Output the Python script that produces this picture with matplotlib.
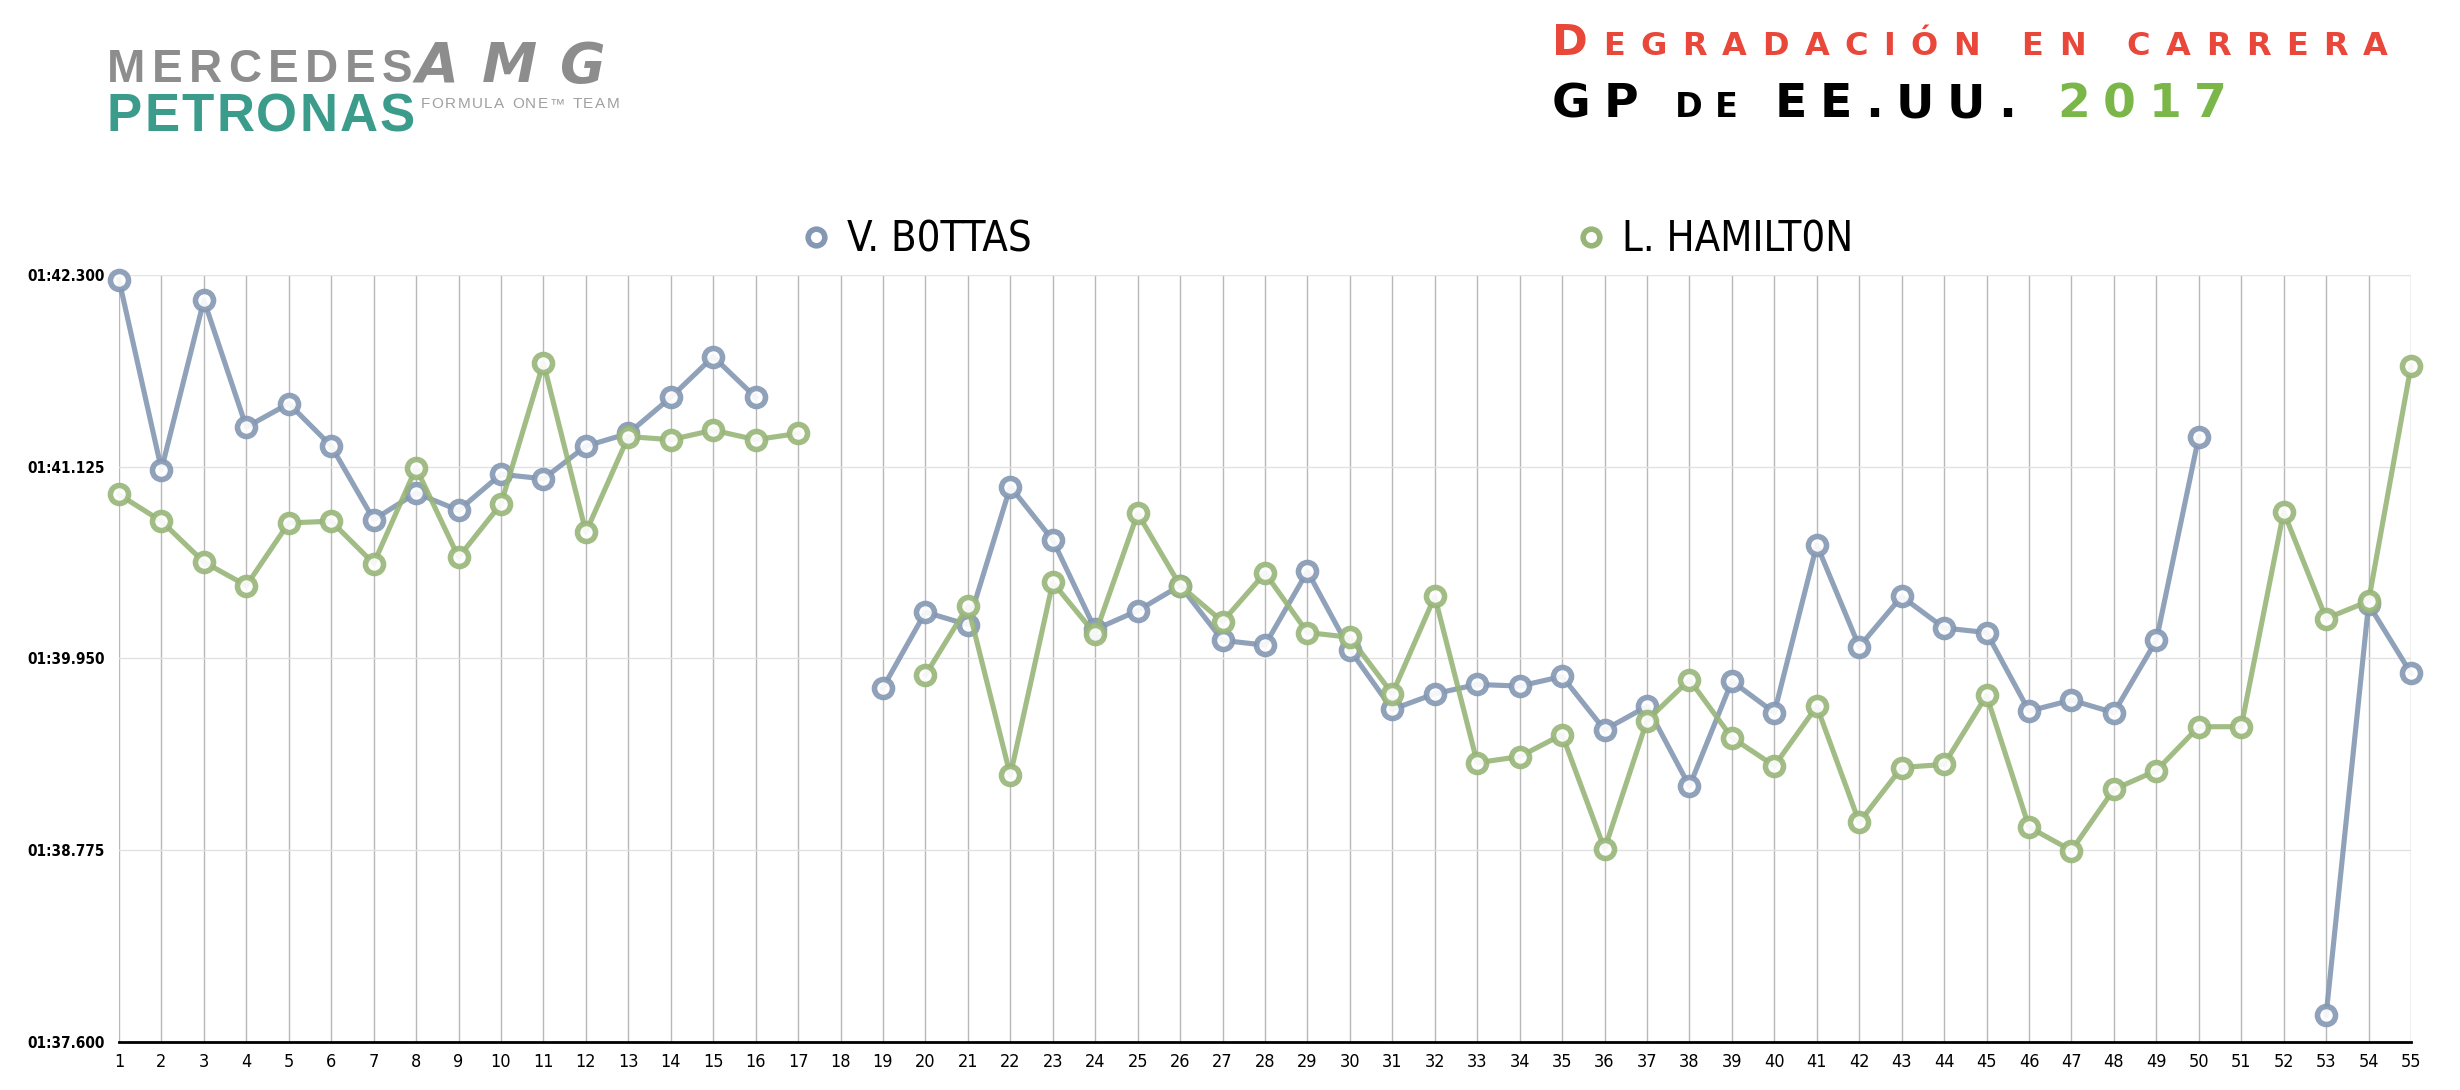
import numpy as np
import matplotlib
matplotlib.use('Agg')
import matplotlib.pyplot as plt
from matplotlib import font_manager
from matplotlib.font_manager import FontProperties
from matplotlib.lines import Line2D

nan = np.nan

# lap times in seconds (1:41.125 -> 101.125)
laps = list(range(1, 56))
bottas = [102.271, 101.108, 102.146, 101.368, 101.512, 101.252, 100.801, 100.964, 100.858, 101.079,
          101.051, 101.252, 101.329, 101.550, 101.800, 101.550, nan, nan, 99.772, 100.234,
          100.157, 101.003, 100.676, 100.128, 100.243, 100.397, 100.061, 100.032, 100.484, 100.003,
          99.638, 99.734, 99.791, 99.781, 99.840, 99.513, 99.657, 99.167, 99.811, 99.618,
          100.647, 100.022, 100.330, 100.137, 100.109, 99.628, 99.695, 99.618, 100.061, 101.310,
          nan, nan, 97.763, 100.282, 99.859]
hamilton = [100.955, 100.791, 100.541, 100.397, 100.781, 100.791, 100.532, 101.118, 100.570, 100.897,
            101.762, 100.724, 101.310, 101.291, 101.349, 101.291, 101.329, nan, nan, 99.849,
            100.272, 99.234, 100.416, 100.099, 100.839, 100.397, 100.176, 100.474, 100.109, 100.080,
            99.734, 100.330, 99.311, 99.349, 99.484, 98.782, 99.570, 99.820, 99.465, 99.292,
            99.657, 98.946, 99.282, 99.301, 99.724, 98.917, 98.773, 99.148, 99.263, 99.532,
            99.532, 100.849, 100.195, 100.301, 101.743]
y_ticks = [97.6, 98.775, 99.95, 101.125, 102.3]
y_labels = ['01:37.600', '01:38.775', '01:39.950', '01:41.125', '01:42.300']
names = ['V. B0TTAS', 'L. HAMILT0N']

col_b = '#8497b3'
col_h = '#98b578'


# look for a condensed / narrow sans, fall back to Liberation Sans
def narrow_font(bold, size):
    for f in font_manager.fontManager.ttflist:
        cond = (f.stretch in ('condensed', 'semi-condensed', 'extra-condensed')
                or 'Narrow' in f.name or 'Condensed' in f.name)
        if not cond or f.style != 'normal':
            continue
        w = f.weight if isinstance(f.weight, int) else (700 if 'bold' in str(f.weight) else 400)
        if (w >= 600) == bold and 'Mono' not in f.name and 'Serif' not in f.name:
            return FontProperties(fname=f.fname, size=size)
    return FontProperties(family='Liberation Sans', weight='bold' if bold else 'normal',
                          size=size * 0.88)


W, H = 2460, 1090
fig = plt.figure(figsize=(W / 100, H / 100), dpi=100)
ax = fig.add_axes([119 / W, 1 - 1042 / H, (2411 - 119) / W, (1042 - 275) / H])

for vals, c in [(bottas, col_b), (hamilton, col_h)]:
    ax.plot(laps, vals, color=c, lw=3.7, alpha=0.9, marker='o', ms=13,
            mfc='white', mec=c, mew=4, clip_on=False, zorder=3)

ax.set_xlim(1, 55)
ax.set_ylim(97.6, 102.3)
ax.set_xticks(laps)
ax.set_xticklabels([str(l) for l in laps], fontproperties=narrow_font(False, 13))
ax.set_yticks(y_ticks)
ax.set_yticklabels(y_labels, fontproperties=narrow_font(True, 11))
ax.tick_params(length=0, pad=10)
ax.tick_params(axis='x', pad=8)
ax.grid(axis='x', color='#b8b8b8', lw=1)
ax.grid(axis='y', color='#e2e2e2', lw=1)
for s in ['top', 'right', 'left']:
    ax.spines[s].set_visible(False)
ax.spines['bottom'].set_color('black')
ax.spines['bottom'].set_linewidth(2)

# legend, one entry each so they sit where the reference has them
leg_font = narrow_font(False, 30)
for name, c, xm in [(names[0], col_b, 813), (names[1], col_h, 1588)]:
    h = Line2D([], [], ls='none', marker='o', ms=12, mfc='white', mec=c, mew=4)
    leg = fig.legend([h], [name], loc='center left', bbox_to_anchor=((xm - 10) / W, 1 - 240 / H),
                     frameon=False, handlelength=0.6, handletextpad=0.45, borderpad=0,
                     borderaxespad=0, prop=leg_font)

renderer = fig.canvas.get_renderer()


# draw characters one by one, spreading them over a given width
def spaced_text(pieces, x0, ybase, target_w, family='DejaVu Sans', weight='bold', style='normal'):
    chars = []
    for txt, size, color in pieces:
        for ch in txt:
            fp = FontProperties(family=family, weight=weight, style=style, size=size)
            w = renderer.get_text_width_height_descent(ch, fp, ismath=False)[0]
            if ch == ' ':
                w = size * 0.45
            chars.append((ch, fp, color, w))
    natural = sum(c[3] for c in chars)
    track = (target_w - natural) / (len(chars) - 1)
    x = x0
    for ch, fp, color, w in chars:
        if ch != ' ':
            fig.text(x / W, 1 - ybase / H, ch, fontproperties=fp, color=color, va='baseline')
        x += w + track


red = '#e8473a'
spaced_text([('D', 31, red), ('EGRADACIÓN EN CARRERA', 23, red)], 1552, 55, 836)
spaced_text([('GP', 34, 'black'), (' DE ', 24, 'black'), ('EE.UU. ', 34, 'black'),
             ('2017', 34, '#7ab648')], 1552, 117, 675)

# team logo as text
spaced_text([('MERCEDES', 33, '#8d8d8d')], 107, 82, 305, family='Liberation Sans')
spaced_text([('AMG', 40, '#8d8d8d')], 416, 82, 190, family='DejaVu Sans', style='italic')
spaced_text([('PETRONAS', 38, '#3c9c8c')], 107, 131, 308, family='Liberation Sans')
spaced_text([('FORMULA ONE™ TEAM', 11, '#a0a0a0')], 421, 108, 198, family='Liberation Sans',
            weight='normal')

fig.savefig('out.png', dpi=100, facecolor='white')
